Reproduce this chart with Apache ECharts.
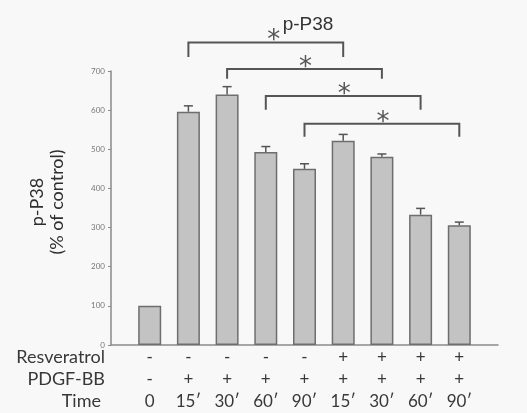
<!DOCTYPE html>
<html><head><meta charset="utf-8">
<script src="https://cdn.jsdelivr.net/npm/echarts@6/dist/echarts.min.js"></script>
<style>html,body{margin:0;padding:0;background:#f8f8f8}#c{width:527px;height:413px}</style>
</head><body><div id="c"></div>
<script>
// Data
const resveratrol = ['-', '-', '-', '-', '-', '+', '+', '+', '+'];
const pdgf = ['-', '+', '+', '+', '+', '+', '+', '+', '+'];
const timeLabels = ['0', '15\u2032', '30\u2032', '60\u2032', '90\u2032', '15\u2032', '30\u2032', '60\u2032', '90\u2032'];
const values = [100, 596, 640, 493, 450, 522, 481, 333, 306];
const errors = [0, 15, 20, 14, 13, 16, 7, 16, 8];
// brackets: [fromBar, toBar, lineValue, legEndValue] (bar index 0-based)
const brackets = [
  [1, 5, 773, 736],
  [2, 6, 705, 680],
  [3, 7, 636, 601],
  [4, 8, 565, 532]
];
const yTicks = [0, 100, 200, 300, 400, 500, 600, 700];

// Padded category axis: slot 0 and slot 10 are empty
const cats = [''].concat(timeLabels, ['']);
const pad = arr => [null].concat(arr, [null]);
const barData = pad(values);
const errData = values.map((v, i) => [i + 1, v, v + errors[i]]);
const brData = brackets.map(b => [b[0] + 1, b[1] + 1, b[2], b[3]]);

const chart = echarts.init(document.getElementById('c'), null, {renderer: 'canvas'});
const font = 'Lato, "Open Sans", sans-serif';
chart.setOption({
  backgroundColor: '#f8f8f8',
  animation: false,
  title: {
    text: 'p-P38', left: 303, top: 10, textAlign: 'center',
    textStyle: {fontFamily: 'Liberation Sans, Arial, sans-serif', fontSize: 19, fontWeight: 'normal', color: '#333'}
  },
  grid: {left: 111, right: 29, top: 71, bottom: 67},
  xAxis: {
    type: 'category', data: cats, boundaryGap: false,
    axisLine: {lineStyle: {color: '#8a8a8a', width: 1.5}},
    axisTick: {show: false},
    axisLabel: {
      interval: 0, margin: 2,
      formatter: (v, i) => (i === 0 || i === 10) ? '' :
        resveratrol[i - 1] + '\n' + pdgf[i - 1] + '\n' + timeLabels[i - 1],
      fontFamily: font, fontSize: 17, lineHeight: 22, color: '#383838'
    }
  },
  yAxis: {
    type: 'value', min: 0, max: 700, interval: 100,
    axisLine: {show: true, lineStyle: {color: '#8a8a8a', width: 1.5}},
    axisTick: {show: true, length: 3, lineStyle: {color: '#8a8a8a'}},
    splitLine: {show: false},
    axisLabel: {fontFamily: font, fontSize: 8, color: '#777', margin: 6,
      formatter: v => yTicks.indexOf(v) >= 0 ? String(v) : ''}
  },
  series: [
    {
      type: 'bar', data: barData, barWidth: 23,
      itemStyle: {color: '#c3c3c3', borderColor: '#6e6e6e', borderWidth: 1.5}
    },
    {
      type: 'custom', data: errData, z: 3,
      renderItem: (params, api) => {
        const x = api.value(0);
        const top = api.coord([x, api.value(2)]);
        const base = api.coord([x, api.value(1)]);
        if (api.value(2) === api.value(1)) return {type: 'group', children: []};
        const hw = 4.5;
        return {type: 'group', children: [
          {type: 'line', shape: {x1: base[0], y1: base[1], x2: top[0], y2: top[1]}, style: {stroke: '#555', lineWidth: 1.5}},
          {type: 'line', shape: {x1: top[0] - hw, y1: top[1], x2: top[0] + hw, y2: top[1]}, style: {stroke: '#555', lineWidth: 1.5}}
        ]};
      }
    },
    {
      type: 'custom', data: brData, clip: false, z: 4,
      renderItem: (params, api) => {
        const a = api.value(0), b = api.value(1), yv = api.value(2), lv = api.value(3);
        const p1 = api.coord([a, yv]), p2 = api.coord([b, yv]);
        const l1 = api.coord([a, lv]), l2 = api.coord([b, lv]);
        const mx = (p1[0] + p2[0]) / 2 + (params.dataIndex === 0 ? 8 : 1);
        return {type: 'group', children: [
          {type: 'polyline', shape: {points: [l1, p1, p2, l2]}, style: {stroke: '#555', lineWidth: 2, fill: null}},
          {type: 'text', x: mx, y: p1[1] + 12, style: {text: '*', textAlign: 'center', textVerticalAlign: 'bottom',
            fontSize: 26, fontFamily: 'DejaVu Sans, sans-serif', fill: '#555'}}
        ]};
      }
    }
  ],
  graphic: [
    {type: 'text', x: 47, y: 202, rotation: Math.PI / 2,
      style: {text: 'p-P38\n(% of control)', font: '18px ' + font, lineHeight: 20, fill: '#2e2e2e',
        textAlign: 'center', textVerticalAlign: 'middle'}},
    {type: 'text', right: 527 - 105, top: 348, style: {text: 'Resveratrol', font: '18px ' + font, fill: '#383838'}},
    {type: 'text', right: 527 - 105, top: 370, style: {text: 'PDGF-BB', font: '18px ' + font, fill: '#383838'}},
    {type: 'text', right: 527 - 101, top: 392, style: {text: 'Time', font: '18px ' + font, fill: '#383838'}}
  ]
});
</script></body></html>
